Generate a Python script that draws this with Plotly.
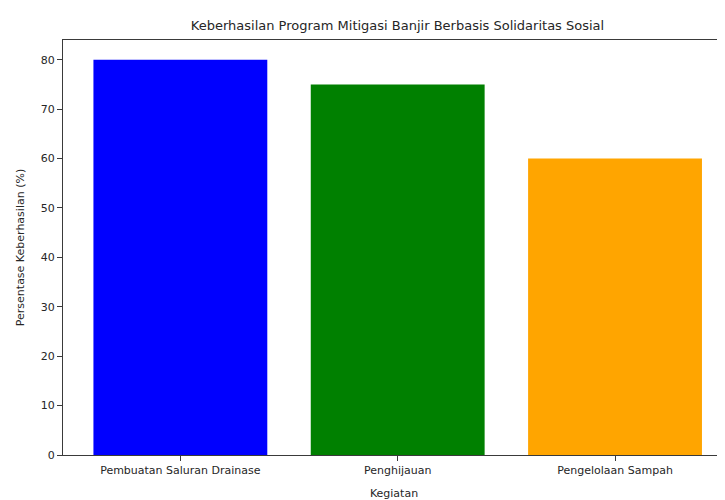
import plotly.graph_objects as go

categories = ["Pembuatan Saluran Drainase", "Penghijauan", "Pengelolaan Sampah"]
values = [80, 75, 60]
colors = ["#0000ff", "#008000", "#ffa500"]
y_ticks = [0, 10, 20, 30, 40, 50, 60, 70, 80]

font_family = "DejaVu Sans"
text_color = "#262626"
line_color = "#3a3a3a"

# The page body has an 8px margin, so the figure is sized to fill the rest of the window.
W, H = 717, 492

fig = go.Figure(
    go.Bar(
        x=categories,
        y=values,
        marker=dict(color=colors, line=dict(width=0)),
        width=0.8,
    )
)

fig.update_layout(
    width=W,
    height=H,
    margin=dict(l=55, r=0, t=32, b=45, autoexpand=False),
    paper_bgcolor="white",
    plot_bgcolor="white",
    font=dict(family=font_family, size=11, color=text_color),
    title=dict(
        text="Keberhasilan Program Mitigasi Banjir Berbasis Solidaritas Sosial",
        x=(397.5 - 63) / (725 - 63), xref="paper", xanchor="center",
        y=1 - 17 / H, yref="container", yanchor="middle",
        font=dict(size=13, color=text_color),
        automargin=False,
    ),
    showlegend=False,
)

fig.update_xaxes(
    type="category",
    range=[-0.54, 2.506],
    automargin=False,
    showline=True, linecolor=line_color, linewidth=1, mirror=True,
    ticks="outside", ticklen=5, tickcolor=line_color, tickwidth=1,
    showgrid=False, zeroline=False,
    tickfont=dict(size=11, color=text_color),
    title=dict(text="Kegiatan", font=dict(size=11, color=text_color), standoff=17),
)
fig.update_yaxes(
    range=[0, 84],
    tickvals=y_ticks,
    automargin=False,
    showline=True, linecolor=line_color, linewidth=1,
    ticks="outside", ticklen=5, tickcolor=line_color, tickwidth=1,
    showgrid=False, zeroline=False,
    tickfont=dict(size=11, color=text_color),
    title=dict(text="Persentase Keberhasilan (%)", font=dict(size=11, color=text_color), standoff=13),
)

fig.write_html("out.html")
